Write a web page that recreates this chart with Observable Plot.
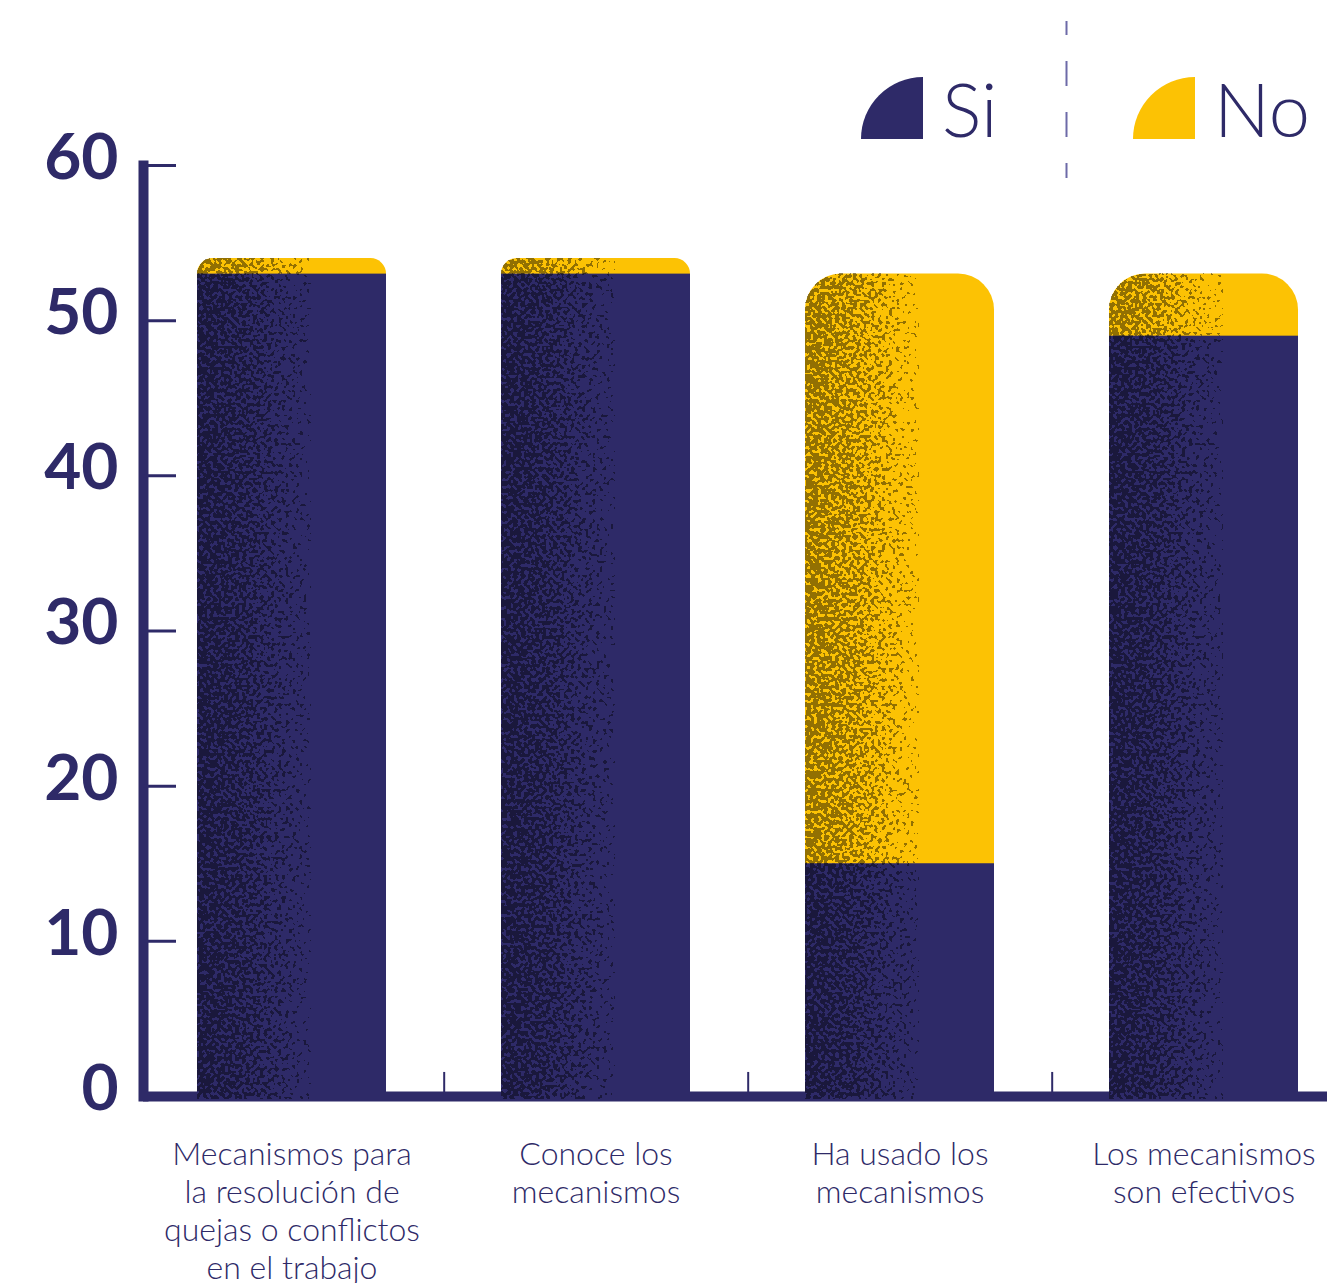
<!DOCTYPE html>
<html><head><meta charset="utf-8">
<script src="https://cdn.jsdelivr.net/npm/d3@7"></script>
<script src="https://cdn.jsdelivr.net/npm/@observablehq/plot@0.6"></script>
<style>
body{margin:0;background:#fff}
#wrap{position:relative;width:1327px;height:1283px;font-family:Lato,sans-serif}
#legend{position:absolute;left:0;top:0}
</style>
</head><body>
<svg width="0" height="0" style="position:absolute">
<defs>
<linearGradient id="grainGrad" x1="0" y1="0" x2="1" y2="0">
 <stop offset="0" stop-color="#000" stop-opacity="0.8"/>
 <stop offset="0.25" stop-color="#000" stop-opacity="0.62"/>
 <stop offset="0.45" stop-color="#000" stop-opacity="0.36"/>
 <stop offset="0.66" stop-color="#000" stop-opacity="0"/>
</linearGradient>
<filter id="grain" x="0" y="0" width="1" height="1" color-interpolation-filters="sRGB">
 <feTurbulence type="fractalNoise" baseFrequency="0.28" numOctaves="1" seed="7" result="noise"/>
 <feColorMatrix in="noise" type="matrix" values="0 0 0 0 0  0 0 0 0 0  0 0 0 0 0  3 0 0 0 -1" result="n"/>
 <feComposite in="SourceAlpha" in2="n" operator="arithmetic" k1="0" k2="1" k3="1" k4="-1" result="sum"/>
 <feComponentTransfer in="sum" result="mask"><feFuncA type="discrete" tableValues="0 1 1 1 1 1 1 1 1 1"/></feComponentTransfer>
 <feFlood flood-color="#000" flood-opacity="0.42" result="flood"/>
 <feComposite in="flood" in2="mask" operator="in"/>
</filter>
</defs></svg>
<div id="wrap"></div>
<script>
const categories = [
  "Mecanismos para\nla resolución de\nquejas o conflictos\nen el trabajo",
  "Conoce los\nmecanismos",
  "Ha usado los\nmecanismos",
  "Los mecanismos\nson efectivos"
];
const si = [53, 53, 15, 49];
const no = [1, 1, 38, 4];
const yTicks = [0, 10, 20, 30, 40, 50, 60];
const seriesLabels = ["Si", "No"];

const navy = "#2e2a68";
const yellow = "#fcc204";
const seriesColors = [navy, yellow];

const rows = categories.map((c, i) => ({cat: c, si: si[i], no: no[i], total: si[i] + no[i]}));

const W = 1327, H = 1283, mt = 165, mb = 187, ml = 143;
const px = (H - mt - mb) / 60;
const x0 = 196.4, x1 = 1298.6, padIn = 0.379;
const step = (x1 - x0) / (categories.length - padIn);

const barMarks = rows.flatMap(r => {
  const rx = Math.min(36, r.no * px);
  return [
    Plot.barY([r], {x: "cat", y: "total", fill: yellow, rx, insetBottom: -3}),
    Plot.barY([r], {x: "cat", y: "total", fill: "url(#grainGrad)", rx, insetBottom: -3}),
    Plot.barY([r], {x: "cat", y: "si", fill: navy, insetBottom: -3}),
    Plot.barY([r], {x: "cat", y: "si", fill: "url(#grainGrad)", insetBottom: -3})
  ];
});

const chart = Plot.plot({
  width: W, height: H,
  marginTop: mt, marginBottom: mb, marginLeft: ml, marginRight: 0,
  style: {fontFamily: "Lato, sans-serif", color: navy, background: "#fff"},
  x: {type: "band", domain: categories, range: [x0, x1], paddingInner: padIn, paddingOuter: 0, axis: null},
  y: {domain: [0, 60]},
  marks: [
    Plot.ruleY([0], {stroke: navy, strokeWidth: 10}),
    Plot.frame({anchor: "left", stroke: navy, strokeWidth: 10}),
    Plot.axisY({ticks: yTicks.slice(1), tickSize: -33, tickFormat: () => "", stroke: navy, strokeWidth: 3}),
    Plot.axisY({ticks: yTicks, tickSize: 0, tickPadding: 25, fontSize: 64, fontWeight: 700, fill: navy, dy: -7, tickFormat: d => String(d)}),
    Plot.ruleX(categories.slice(0, 3), {x: d => d, y1: 0, y2: 1.55, dx: step / 2, stroke: navy, strokeWidth: 2}),
    ...barMarks,
    Plot.text(rows, {x: "cat", text: "cat", frameAnchor: "bottom", lineAnchor: "top", dy: 41, fontSize: 32, fontWeight: 300, lineHeight: 1.19, fill: navy})
  ]
});
d3.select(chart).selectAll('[fill="url(#grainGrad)"]').attr("filter", "url(#grain)");
const wrap = document.getElementById("wrap");
wrap.appendChild(chart);

// legend
const lg = d3.select(wrap).append("svg").attr("id", "legend").attr("width", W).attr("height", 200);
const legendItems = [{label: seriesLabels[0], color: seriesColors[0], sx: 861, tx: 942},
                     {label: seriesLabels[1], color: seriesColors[1], sx: 1133, tx: 1214}];
legendItems.forEach(it => {
  lg.append("path").attr("d", `M${it.sx + 62},77 L${it.sx + 62},139 L${it.sx},139 A62,62 0 0 1 ${it.sx + 62},77 Z`).attr("fill", it.color);
  lg.append("text").attr("x", it.tx).attr("y", 137).attr("font-size", 74).attr("font-weight", 300)
    .attr("font-family", "Lato, sans-serif").attr("fill", navy).text(it.label);
});
lg.append("line").attr("x1", 1066.5).attr("x2", 1066.5).attr("y1", 21).attr("y2", 178)
  .attr("stroke", "#6d6aa8").attr("stroke-width", 2).attr("stroke-dasharray", "25 26").attr("stroke-dashoffset", 11);
</script>
</body></html>
